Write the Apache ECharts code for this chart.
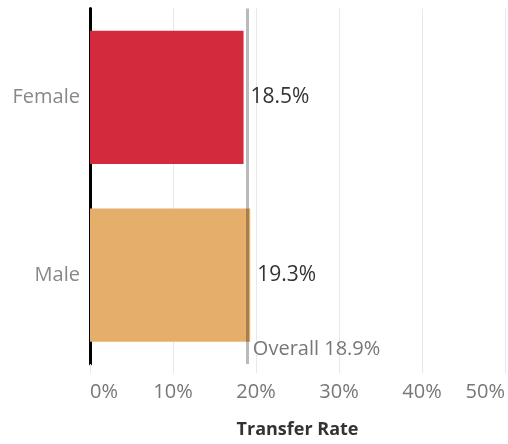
<!DOCTYPE html>
<html>
<head>
<meta charset="utf-8">
<script src="https://cdn.jsdelivr.net/npm/echarts@6/dist/echarts.min.js"></script>
<style>
    html, body { margin: 0; padding: 0; background: #fff; }
    #chart { width: 508px; height: 444px; }
</style>
</head>
<body>
<div id="chart"></div>
<script>
    const genders = ['Female', 'Male'];
    const transferRates = [18.5, 19.3];
    const barColors = ['#D32A3D', '#E5AE6B'];
    const overallRate = 18.9;
    const rateTicks = [0, 10, 20, 30, 40, 50];

    const font = '"Open Sans", sans-serif';
    const chart = echarts.init(document.getElementById('chart'));

    chart.setOption({
        animation: false,
        grid: { left: 90, right: 0, top: 8.5, height: 356 },
        xAxis: {
            type: 'value',
            min: rateTicks[0],
            max: rateTicks[rateTicks.length - 1],
            interval: rateTicks[1] - rateTicks[0],
            axisLine: { show: false },
            axisTick: { show: true, length: 9, lineStyle: { color: '#e8e8e8' } },
            splitLine: { lineStyle: { color: '#e8e8e8', width: 1 } },
            axisLabel: {
                formatter: '{value}%',
                color: '#777',
                fontSize: 20,
                fontFamily: font,
                margin: 18,
                alignMinLabel: 'left',
                alignMaxLabel: 'right'
            },
            name: 'Transfer Rate',
            nameLocation: 'middle',
            nameGap: 57,
            nameTextStyle: { color: '#333', fontSize: 18, fontWeight: 'bold', fontFamily: font }
        },
        yAxis: {
            type: 'category',
            data: genders,
            inverse: true,
            axisLine: { lineStyle: { color: '#000', width: 3 } },
            axisTick: { show: false },
            axisLabel: { color: '#888', fontSize: 20, fontFamily: font, margin: 10 }
        },
        series: [{
            type: 'bar',
            barCategoryGap: '25%',
            data: transferRates.map((v, i) => ({ value: v, itemStyle: { color: barColors[i] } })),
            label: {
                show: true,
                position: 'right',
                distance: 7,
                formatter: '{c}%',
                color: '#333',
                fontSize: 21,
                fontFamily: font
            },
            markLine: {
                silent: true,
                symbol: 'none',
                lineStyle: { color: 'rgba(0,0,0,0.27)', width: 3, type: 'solid' },
                label: {
                    position: 'end',
                    distance: 0,
                    formatter: 'Overall ' + overallRate + '%',
                    align: 'left',
                    verticalAlign: 'bottom',
                    padding: [0, 0, 5, 6],
                    color: '#777',
                    fontSize: 20,
                    fontFamily: font
                },
                data: [{ xAxis: overallRate }]
            }
        }]
    });
</script>
</body>
</html>
